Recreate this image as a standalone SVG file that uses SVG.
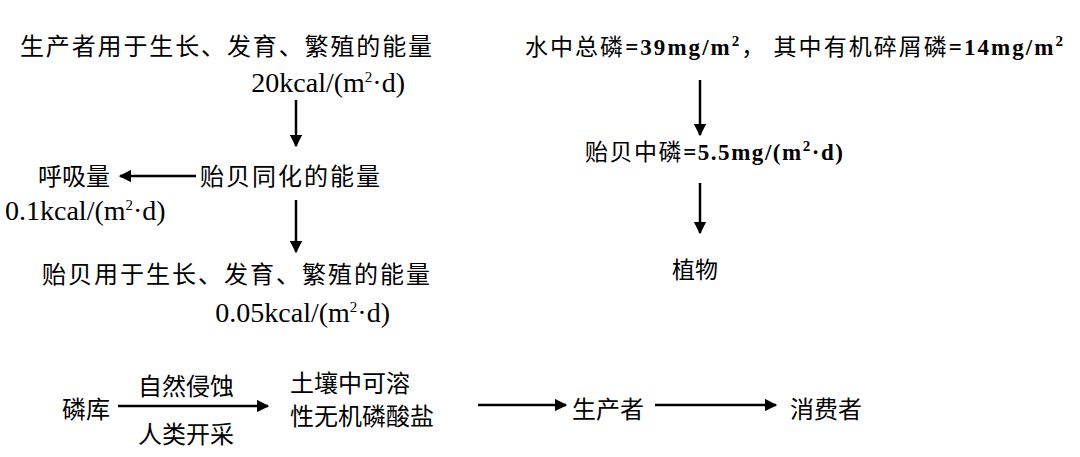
<svg xmlns="http://www.w3.org/2000/svg" width="1080" height="457" viewBox="0 0 1080 457">
<style>
.c{font-family:"Noto Sans CJK SC","Noto Sans",sans-serif;font-size:24px;fill:#000}
.r{font-family:"Noto Sans CJK SC","Noto Sans",sans-serif;font-size:23px;fill:#000}
.s{font-family:"Liberation Serif","Noto Sans CJK SC",serif;font-size:28px;fill:#000}
.b{font-family:"Liberation Serif",serif;font-weight:bold;font-size:23px}
.sup{font-size:15px}
.l{stroke:#000;stroke-width:2.5;fill:none;marker-end:url(#a)}
</style>
<defs><marker id="a" viewBox="0 0 10 10" refX="9" refY="5" markerWidth="5" markerHeight="5" orient="auto" markerUnits="strokeWidth"><path d="M0,0L10,5L0,10z" fill="#000"/></marker></defs>
<rect width="1080" height="457" fill="#fff"/>
<g id="n1"><text class="c" x="20" y="55" textLength="412">生产者用于生长、发育、繁殖的能量</text><text class="s" x="405" y="92" text-anchor="end">20kcal/(m<tspan class="sup" dy="-10">2</tspan><tspan dy="10">·d)</tspan></text></g>
<g id="n2"><text class="c" x="200" y="185" textLength="180">贻贝同化的能量</text></g>
<g id="n3"><text class="c" x="38" y="185">呼吸量</text><text class="s" x="5" y="220">0.1kcal/(m<tspan class="sup" dy="-10">2</tspan><tspan dy="10">·d)</tspan></text></g>
<g id="n4"><text class="c" x="42" y="283" textLength="388">贻贝用于生长、发育、繁殖的能量</text><text class="s" x="390" y="322" text-anchor="end">0.05kcal/(m<tspan class="sup" dy="-10">2</tspan><tspan dy="10">·d)</tspan></text></g>
<g id="n5"><text class="r" x="525" y="55" textLength="538">水中总磷<tspan class="b">=39mg/m</tspan><tspan class="b sup" dy="-9">2</tspan><tspan dy="9">，  其中有机碎屑磷</tspan><tspan class="b">=14mg/m</tspan><tspan class="b sup" dy="-9">2</tspan></text></g>
<g id="n6"><text class="r" x="585" y="160" textLength="258">贻贝中磷<tspan class="b">=5.5mg/(m</tspan><tspan class="b sup" dy="-9">2</tspan><tspan class="b" dy="9">·d)</tspan></text></g>
<g id="n7"><text class="r" x="672" y="278">植物</text></g>
<g id="n8"><text class="c" x="62" y="418">磷库</text></g>
<g id="n9"><text class="c" x="290" y="392">土壤中可溶</text><text class="c" x="290" y="425">性无机磷酸盐</text></g>
<g id="n10"><text class="c" x="572" y="418">生产者</text></g>
<g id="n11"><text class="c" x="790" y="418">消费者</text></g>
<g id="edges">
<line class="l" x1="296" y1="100" x2="296" y2="146"/>
<line class="l" x1="196" y1="176" x2="120" y2="176"/>
<line class="l" x1="296" y1="200" x2="296" y2="252"/>
<line class="l" x1="700" y1="80" x2="700" y2="135"/>
<line class="l" x1="700" y1="183" x2="700" y2="233"/>
<line class="l" x1="118" y1="406" x2="268" y2="406"/>
<text class="c" x="138" y="395">自然侵蚀</text><text class="c" x="138" y="443">人类开采</text>
<line class="l" x1="478" y1="405" x2="566" y2="405"/>
<line class="l" x1="655" y1="405" x2="776" y2="405"/>
</g>
</svg>
